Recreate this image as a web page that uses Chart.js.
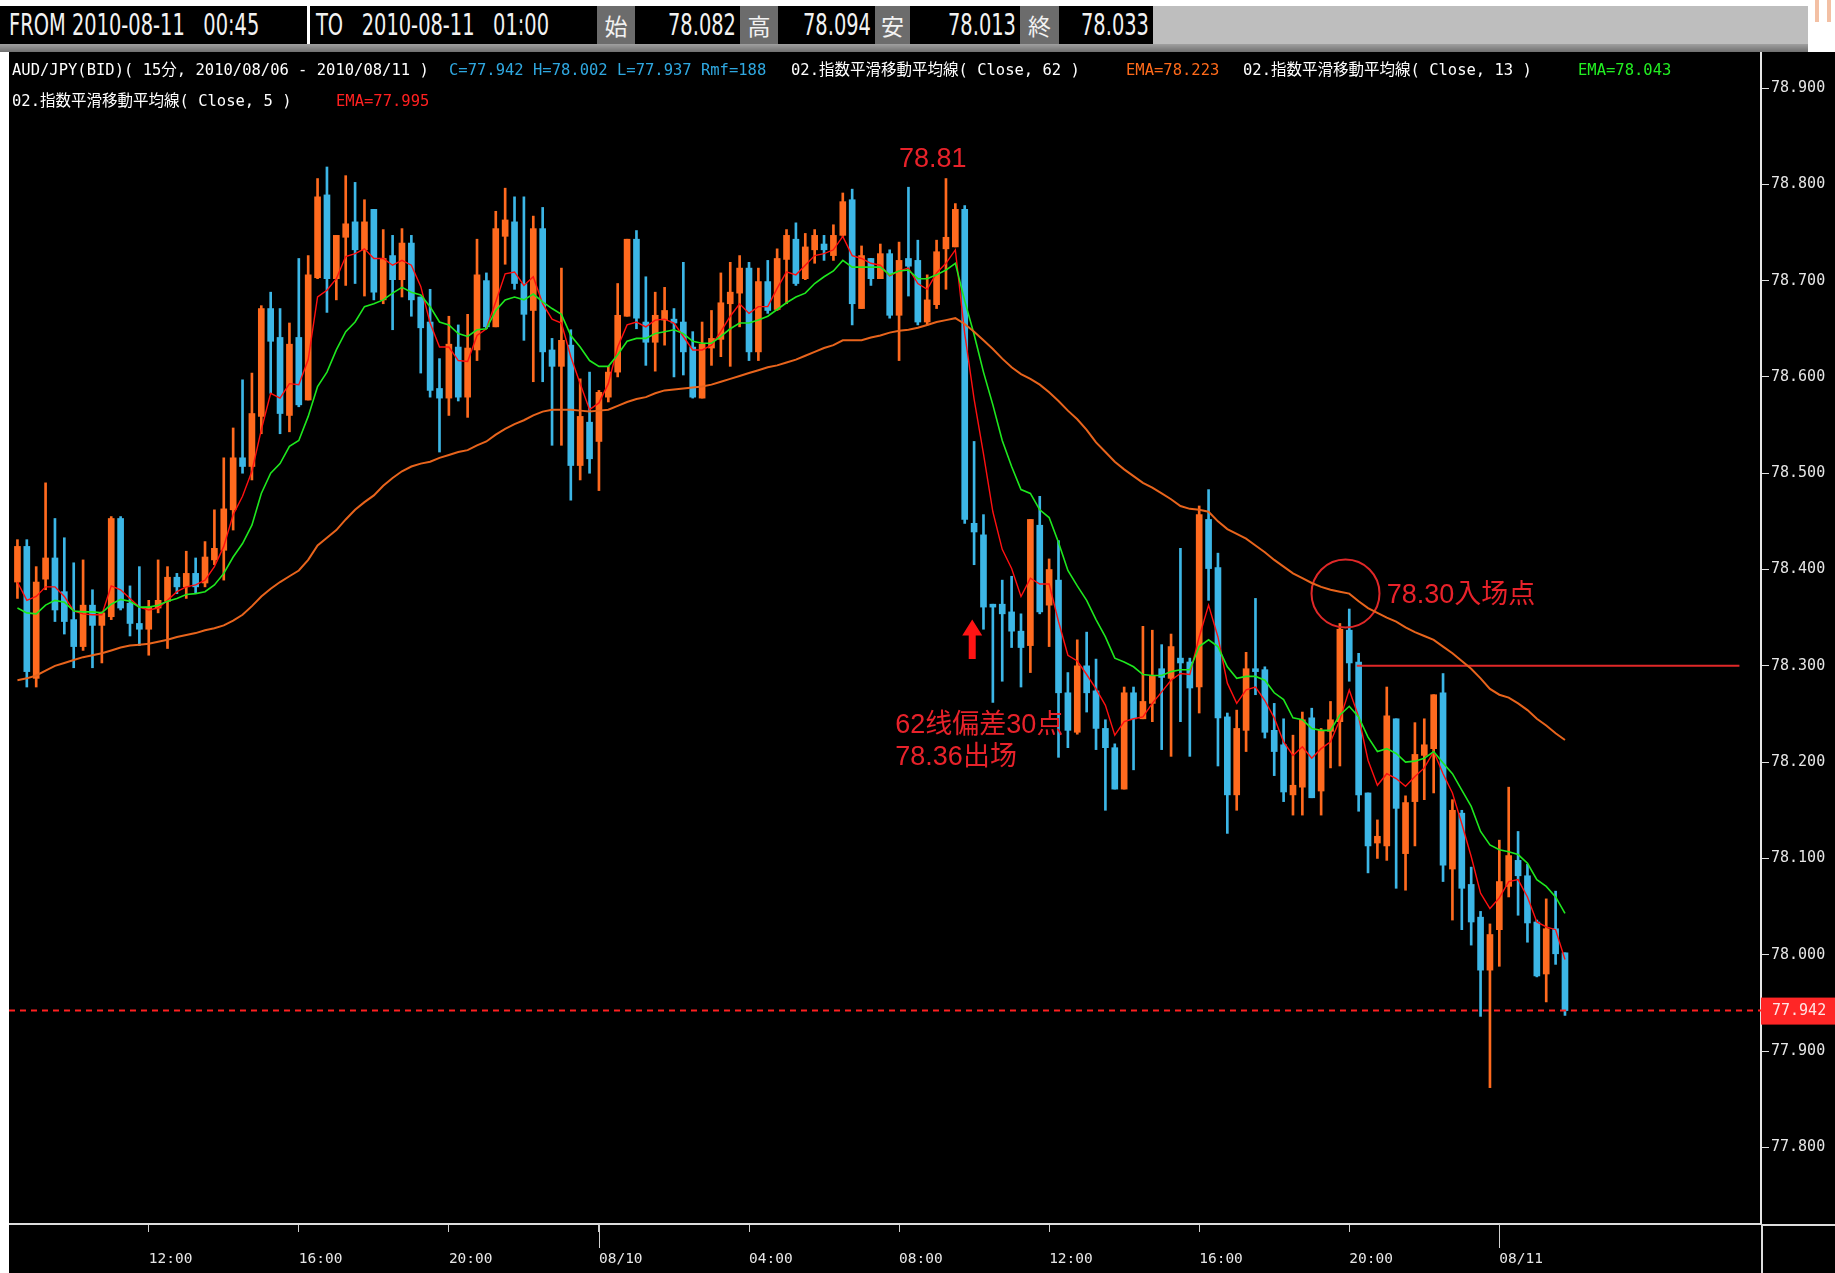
<!DOCTYPE html>
<html lang="ja">
<head>
<meta charset="utf-8">
<title>AUD/JPY 15分</title>
<script src="https://cdn.jsdelivr.net/npm/chart.js@4.4.0/dist/chart.umd.min.js"></script>
<style>
  html, body { margin: 0; padding: 0; background: #fff; }
  body { position: relative; width: 1835px; height: 1273px; overflow: hidden; }
  .hd { position: absolute; top: 6px; height: 38px; line-height: 38px; background: #000; color: #f2f2f2;
        font-family: "DejaVu Sans Condensed", "Liberation Sans", sans-serif; font-size: 27px;
        white-space: pre; box-sizing: border-box; overflow: hidden; }
  .hd span { display: inline-block; transform: scale(0.8, 1.12); transform-origin: left center; }
  .hd.v span { transform-origin: right center; }
  .hd.k { background: #6c6c6c; text-align: center; font-family: "Noto Sans CJK JP", sans-serif; font-size: 23px; }
  .hd.v { text-align: right; padding-right: 4px; }
  .hd.g { background: #bebebe; }
  #rule { position: absolute; left: 0; top: 44px; width: 1808px; height: 8px; background: linear-gradient(#a0a0a0, #707070); }
  #panel { position: absolute; left: 9px; top: 52px; width: 1826px; height: 1221px; background: #000; }
  #chart { position: absolute; left: 0; top: 0; }
  .lg { position: absolute; font-family: "DejaVu Sans Mono", "Noto Sans CJK JP", monospace; font-size: 15.5px;
        white-space: pre; color: #fff; line-height: 18px; }
  .deco { position: absolute; top: 0; width: 4px; height: 22px; background: #f3c0a4; }
</style>
</head>
<body>
<div class="hd" style="left:0;width:307px;padding-left:9px;"><span>FROM 2010-08-11   00:45</span></div>
<div class="hd" style="left:310px;width:287px;padding-left:6px;"><span>TO   2010-08-11   01:00</span></div>
<div class="hd k" style="left:597px;width:38px;">始</div>
<div class="hd v" style="left:635px;width:105px;"><span>78.082</span></div>
<div class="hd k" style="left:740px;width:38px;">高</div>
<div class="hd v" style="left:778px;width:97px;"><span>78.094</span></div>
<div class="hd k" style="left:875px;width:35px;">安</div>
<div class="hd v" style="left:910px;width:110px;"><span>78.013</span></div>
<div class="hd k" style="left:1020px;width:39px;">終</div>
<div class="hd v" style="left:1059px;width:94px;"><span>78.033</span></div>
<div class="hd g" style="left:1153px;width:655px;"></div>
<div class="deco" style="left:1815px;"></div>
<div class="deco" style="left:1827px;"></div>
<div id="rule"></div>

<div id="panel"><canvas id="chart" width="1826" height="1221"></canvas></div>

<div class="lg" style="left:12px;top:61px;">AUD/JPY(BID)( 15分, 2010/08/06 - 2010/08/11 )</div>
<div class="lg" style="left:449px;top:61px;color:#2fa8e0;">C=77.942 H=78.002 L=77.937 Rmf=188</div>
<div class="lg" style="left:791px;top:61px;">02.指数平滑移動平均線( Close, 62 )</div>
<div class="lg" style="left:1126px;top:61px;color:#ff6a1a;">EMA=78.223</div>
<div class="lg" style="left:1243px;top:61px;">02.指数平滑移動平均線( Close, 13 )</div>
<div class="lg" style="left:1578px;top:61px;color:#22ee22;">EMA=78.043</div>
<div class="lg" style="left:12px;top:92px;">02.指数平滑移動平均線( Close, 5 )</div>
<div class="lg" style="left:336px;top:92px;color:#ff2020;">EMA=77.995</div>

<script>
// AUD/JPY 15 minute bars, 08/09 08:30 .. 08/11 01:45 (one entry per bar)
const opens = [
  78.387, 78.424, 78.287, 78.390, 78.412, 78.377, 78.348, 78.320, 78.363, 78.342,
  78.351, 78.453, 78.365, 78.344, 78.338, 78.360, 78.367, 78.392, 78.382, 78.396,
  78.386, 78.410, 78.420, 78.462, 78.516, 78.507, 78.559, 78.671, 78.641, 78.560,
  78.641, 78.576, 78.703, 78.789, 78.702, 78.745, 78.761, 78.732, 78.774, 78.680,
  78.726, 78.701, 78.739, 78.683, 78.657, 78.588, 78.578, 78.631, 78.579, 78.628,
  78.700, 78.652, 78.746, 78.761, 78.697, 78.669, 78.754, 78.628, 78.611, 78.633,
  78.508, 78.553, 78.533, 78.579, 78.605, 78.663, 78.743, 78.657, 78.636, 78.659,
  78.660, 78.657, 78.631, 78.578, 78.630, 78.639, 78.676, 78.687, 78.713, 78.626,
  78.699, 78.670, 78.722, 78.743, 78.702, 78.732, 78.738, 78.726, 78.747, 78.784,
  78.671, 78.723, 78.702, 78.728, 78.664, 78.723, 78.721, 78.657, 78.675, 78.733,
  78.735, 78.774, 78.448, 78.436, 78.364, 78.364, 78.356, 78.336, 78.321, 78.446,
  78.363, 78.389, 78.272, 78.231, 78.300, 78.274, 78.235, 78.215, 78.172, 78.272,
  78.245, 78.261, 78.297, 78.287, 78.308, 78.304, 78.278, 78.452, 78.402, 78.247,
  78.166, 78.233, 78.297, 78.296, 78.233, 78.218, 78.166, 78.174, 78.246, 78.170,
  78.232, 78.242, 78.337, 78.304, 78.168, 78.116, 78.113, 78.245, 78.105, 78.159,
  78.207, 78.214, 78.272, 78.089, 78.147, 78.073, 78.039, 77.984, 78.026, 78.071,
  78.098, 78.082, 78.034, 77.980, 78.027, 78.002
];
const highs = [
  78.431, 78.431, 78.403, 78.490, 78.453, 78.433, 78.407, 78.410, 78.379, 78.356,
  78.455, 78.455, 78.383, 78.403, 78.368, 78.410, 78.403, 78.396, 78.419, 78.412,
  78.429, 78.462, 78.516, 78.547, 78.597, 78.604, 78.674, 78.688, 78.671, 78.656,
  78.723, 78.726, 78.806, 78.818, 78.747, 78.809, 78.802, 78.784, 78.774, 78.753,
  78.747, 78.754, 78.747, 78.683, 78.691, 78.619, 78.663, 78.654, 78.665, 78.743,
  78.708, 78.772, 78.796, 78.787, 78.787, 78.767, 78.776, 78.640, 78.713, 78.649,
  78.598, 78.605, 78.586, 78.611, 78.697, 78.743, 78.752, 78.704, 78.688, 78.693,
  78.671, 78.719, 78.647, 78.657, 78.669, 78.708, 78.719, 78.726, 78.719, 78.713,
  78.721, 78.733, 78.753, 78.760, 78.749, 78.753, 78.747, 78.758, 78.791, 78.795,
  78.736, 78.723, 78.738, 78.732, 78.740, 78.797, 78.742, 78.706, 78.742, 78.806,
  78.780, 78.778, 78.533, 78.457, 78.364, 78.389, 78.393, 78.354, 78.452, 78.476,
  78.411, 78.430, 78.293, 78.327, 78.335, 78.307, 78.244, 78.219, 78.278, 78.278,
  78.341, 78.337, 78.322, 78.333, 78.422, 78.308, 78.466, 78.483, 78.417, 78.251,
  78.254, 78.314, 78.370, 78.299, 78.261, 78.245, 78.228, 78.252, 78.256, 78.235,
  78.263, 78.344, 78.359, 78.313, 78.168, 78.140, 78.278, 78.245, 78.165, 78.241,
  78.245, 78.270, 78.292, 78.161, 78.150, 78.091, 78.045, 78.032, 78.119, 78.174,
  78.128, 78.094, 78.036, 78.058, 78.066, 78.002
];
const lows = [
  78.370, 78.278, 78.278, 78.379, 78.346, 78.333, 78.298, 78.316, 78.298, 78.303,
  78.348, 78.358, 78.331, 78.321, 78.311, 78.355, 78.318, 78.375, 78.370, 78.375,
  78.382, 78.405, 78.389, 78.441, 78.500, 78.493, 78.541, 78.583, 78.541, 78.543,
  78.569, 78.576, 78.702, 78.667, 78.680, 78.695, 78.697, 78.684, 78.680, 78.676,
  78.649, 78.683, 78.663, 78.604, 78.579, 78.522, 78.560, 78.575, 78.558, 78.617,
  78.650, 78.652, 78.717, 78.691, 78.638, 78.595, 78.595, 78.529, 78.529, 78.472,
  78.493, 78.500, 78.482, 78.574, 78.600, 78.663, 78.650, 78.612, 78.606, 78.633,
  78.600, 78.602, 78.578, 78.578, 78.612, 78.621, 78.611, 78.652, 78.617, 78.617,
  78.666, 78.669, 78.676, 78.695, 78.701, 78.718, 78.721, 78.721, 78.746, 78.654,
  78.671, 78.695, 78.702, 78.661, 78.617, 78.684, 78.654, 78.654, 78.671, 78.691,
  78.735, 78.448, 78.405, 78.338, 78.262, 78.284, 78.319, 78.278, 78.293, 78.354,
  78.320, 78.205, 78.215, 78.229, 78.252, 78.213, 78.150, 78.172, 78.172, 78.192,
  78.245, 78.242, 78.213, 78.206, 78.242, 78.206, 78.251, 78.368, 78.196, 78.126,
  78.150, 78.211, 78.270, 78.225, 78.186, 78.159, 78.145, 78.145, 78.163, 78.145,
  78.194, 78.196, 78.284, 78.149, 78.085, 78.100, 78.098, 78.069, 78.067, 78.113,
  78.161, 78.168, 78.076, 78.036, 78.026, 78.010, 77.936, 77.862, 77.988, 78.060,
  78.041, 78.013, 77.977, 77.951, 77.990, 77.937
];
const closes = [
  78.424, 78.294, 78.387, 78.412, 78.358, 78.346, 78.320, 78.363, 78.342, 78.355,
  78.453, 78.360, 78.344, 78.338, 78.361, 78.368, 78.392, 78.382, 78.396, 78.382,
  78.413, 78.422, 78.463, 78.516, 78.507, 78.562, 78.671, 78.637, 78.562, 78.634,
  78.571, 78.706, 78.787, 78.702, 78.747, 78.759, 78.732, 78.761, 78.688, 78.723,
  78.701, 78.739, 78.680, 78.651, 78.586, 78.578, 78.634, 78.579, 78.630, 78.706,
  78.652, 78.754, 78.763, 78.697, 78.665, 78.754, 78.626, 78.611, 78.638, 78.508,
  78.559, 78.515, 78.584, 78.605, 78.664, 78.743, 78.661, 78.636, 78.664, 78.669,
  78.656, 78.626, 78.579, 78.634, 78.640, 78.677, 78.688, 78.713, 78.626, 78.699,
  78.669, 78.723, 78.747, 78.697, 78.735, 78.747, 78.732, 78.747, 78.782, 78.676,
  78.726, 78.702, 78.728, 78.664, 78.721, 78.715, 78.657, 78.680, 78.730, 78.745,
  78.774, 78.452, 78.439, 78.361, 78.361, 78.354, 78.336, 78.319, 78.452, 78.356,
  78.400, 78.272, 78.233, 78.300, 78.272, 78.235, 78.215, 78.172, 78.272, 78.245,
  78.263, 78.290, 78.288, 78.320, 78.303, 78.277, 78.457, 78.401, 78.246, 78.166,
  78.235, 78.297, 78.294, 78.231, 78.211, 78.169, 78.176, 78.244, 78.163, 78.233,
  78.244, 78.338, 78.303, 78.166, 78.113, 78.123, 78.248, 78.152, 78.158, 78.208,
  78.218, 78.270, 78.093, 78.150, 78.069, 78.034, 77.984, 78.021, 78.076, 78.103,
  78.082, 78.033, 77.978, 78.027, 78.001, 77.942
];

// moving averages as drawn on the chart
const ema62 = [
  78.285, 78.287, 78.290, 78.295, 78.300, 78.303, 78.306, 78.309, 78.311, 78.313,
  78.316, 78.319, 78.321, 78.322, 78.323, 78.325, 78.327, 78.330, 78.332, 78.334,
  78.337, 78.339, 78.342, 78.347, 78.353, 78.362, 78.372, 78.380, 78.387, 78.393,
  78.399, 78.410, 78.425, 78.433, 78.441, 78.452, 78.462, 78.470, 78.477, 78.487,
  78.495, 78.502, 78.507, 78.510, 78.512, 78.516, 78.519, 78.522, 78.524, 78.529,
  78.533, 78.540, 78.546, 78.551, 78.555, 78.560, 78.564, 78.566, 78.566, 78.566,
  78.565, 78.564, 78.565, 78.566, 78.570, 78.574, 78.577, 78.579, 78.583, 78.586,
  78.587, 78.588, 78.589, 78.590, 78.592, 78.595, 78.598, 78.601, 78.604, 78.607,
  78.610, 78.612, 78.615, 78.618, 78.622, 78.626, 78.630, 78.633, 78.638, 78.638,
  78.638, 78.641, 78.643, 78.646, 78.648, 78.649, 78.651, 78.654, 78.657, 78.659,
  78.661, 78.655, 78.647, 78.638, 78.629, 78.619, 78.610, 78.603, 78.598, 78.592,
  78.584, 78.575, 78.565, 78.556, 78.545, 78.532, 78.522, 78.512, 78.504, 78.497,
  78.490, 78.485, 78.479, 78.473, 78.466, 78.463, 78.462, 78.460, 78.450, 78.442,
  78.437, 78.432, 78.425, 78.418, 78.410, 78.403, 78.396, 78.391, 78.386, 78.382,
  78.379, 78.377, 78.375, 78.367, 78.360, 78.355, 78.350, 78.346, 78.340, 78.335,
  78.331, 78.327, 78.320, 78.313, 78.305, 78.297, 78.287, 78.276, 78.270, 78.267,
  78.261, 78.254, 78.245, 78.238, 78.230, 78.223
];
const ema13 = [
  78.360, 78.355, 78.354, 78.363, 78.368, 78.366, 78.357, 78.356, 78.356, 78.355,
  78.364, 78.369, 78.367, 78.361, 78.361, 78.363, 78.367, 78.370, 78.374, 78.375,
  78.377, 78.384, 78.396, 78.413, 78.427, 78.446, 78.479, 78.500, 78.510, 78.528,
  78.534, 78.559, 78.590, 78.605, 78.628, 78.647, 78.657, 78.673, 78.676, 78.680,
  78.687, 78.693, 78.688, 78.685, 78.673, 78.657, 78.654, 78.645, 78.642, 78.649,
  78.650, 78.669, 78.680, 78.683, 78.680, 78.686, 78.678, 78.671, 78.665, 78.643,
  78.631, 78.617, 78.611, 78.611, 78.623, 78.637, 78.640, 78.640, 78.645, 78.647,
  78.649, 78.645, 78.637, 78.635, 78.635, 78.642, 78.650, 78.656, 78.656, 78.659,
  78.663, 78.670, 78.677, 78.683, 78.687, 78.697, 78.704, 78.710, 78.721, 78.714,
  78.714, 78.714, 78.714, 78.706, 78.710, 78.711, 78.702, 78.702, 78.706, 78.711,
  78.718, 78.679, 78.644, 78.605, 78.571, 78.534, 78.507, 78.483, 78.479, 78.462,
  78.454, 78.428, 78.399, 78.383, 78.368, 78.348, 78.330, 78.308, 78.304, 78.299,
  78.291, 78.290, 78.290, 78.294, 78.296, 78.296, 78.320, 78.327, 78.320, 78.299,
  78.287, 78.289, 78.289, 78.285, 78.272, 78.265, 78.246, 78.244, 78.235, 78.233,
  78.233, 78.249, 78.258, 78.247, 78.226, 78.211, 78.214, 78.209, 78.200, 78.201,
  78.204, 78.211, 78.199, 78.188, 78.171, 78.154, 78.128, 78.114, 78.109, 78.107,
  78.104, 78.095, 78.078, 78.071, 78.060, 78.043
];
const ema5 = [
  78.387, 78.368, 78.372, 78.382, 78.382, 78.372, 78.357, 78.354, 78.353, 78.353,
  78.383, 78.379, 78.370, 78.361, 78.358, 78.360, 78.368, 78.377, 78.382, 78.384,
  78.389, 78.403, 78.424, 78.457, 78.476, 78.502, 78.545, 78.583, 78.578, 78.593,
  78.592, 78.618, 78.683, 78.690, 78.702, 78.725, 78.728, 78.733, 78.723, 78.723,
  78.716, 78.721, 78.716, 78.694, 78.656, 78.631, 78.631, 78.617, 78.616, 78.643,
  78.650, 78.678, 78.707, 78.709, 78.695, 78.704, 78.676, 78.660, 78.656, 78.621,
  78.593, 78.566, 78.573, 78.593, 78.631, 78.654, 78.657, 78.652, 78.659, 78.660,
  78.656, 78.642, 78.628, 78.628, 78.633, 78.647, 78.663, 78.676, 78.666, 78.673,
  78.673, 78.692, 78.709, 78.706, 78.716, 78.726, 78.728, 78.732, 78.746, 78.726,
  78.723, 78.718, 78.716, 78.705, 78.710, 78.713, 78.697, 78.691, 78.708, 78.718,
  78.732, 78.645, 78.577, 78.520, 78.460, 78.421, 78.401, 78.372, 78.391, 78.385,
  78.385, 78.346, 78.311, 78.305, 78.291, 78.276, 78.259, 78.228, 78.242, 78.245,
  78.247, 78.261, 78.273, 78.285, 78.292, 78.291, 78.330, 78.363, 78.330, 78.282,
  78.261, 78.275, 78.278, 78.264, 78.246, 78.221, 78.207, 78.216, 78.204, 78.214,
  78.221, 78.244, 78.275, 78.247, 78.202, 78.176, 78.188, 78.183, 78.175, 78.185,
  78.194, 78.211, 78.188, 78.168, 78.136, 78.102, 78.064, 78.048, 78.059, 78.076,
  78.078, 78.060, 78.034, 78.029, 78.026, 77.995
];

const xTickIndex = [14, 30, 46, 62, 78, 94, 110, 126, 142, 158];
const xTickLabels = ['12:00', '16:00', '20:00', '08/10', '04:00', '08:00', '12:00', '16:00', '20:00', '08/11'];
const yTicks = [77.8, 77.9, 78.0, 78.1, 78.2, 78.3, 78.4, 78.5, 78.6, 78.7, 78.8, 78.9];

// hand drawn notes on the original chart
const highNote = { text: '78.81', x: 97.6, y: 78.812 };
const exitNotes = [
  { text: '62线偏差30点', x: 93.6, y: 78.252 },
  { text: '78.36出场', x: 93.6, y: 78.219 }
];
const entryNote = { text: '78.30入场点', x: 146.0, y: 78.387 };
const entryLine = { price: 78.30, from: 142.8, to: 183.6 };
const entryCircle = { x: 141.6, y: 78.375 };
const exitArrow = { x: 101.8, top: 78.348, bottom: 78.307 };

const X_MIN = -0.9, X_MAX = 185.9;
const Y_MIN = 77.7204, Y_MAX = 78.9374;
const UP = '#ff6a1e';
const DOWN = '#3cb6e6';
const NOTE_RED = '#e8222a';
const lastClose = closes[closes.length - 1];

const idx = opens.map((_, i) => i);
const candleColors = idx.map(i => closes[i] >= opens[i] ? UP : DOWN);

function lineSet(label, values, color, width) {
  return {
    type: 'line', label: label,
    data: idx.map(i => ({ x: i, y: values[i] })),
    borderColor: color, borderWidth: width,
    pointRadius: 0, tension: 0, order: 0
  };
}

// notes, arrow, price tag, long date ticks and axis line extensions
const notesPlugin = {
  id: 'notes',
  afterDatasetsDraw(chart) {
    const { ctx, scales: { x, y } } = chart;
    ctx.save();
    ctx.fillStyle = NOTE_RED;
    ctx.font = '27px "Liberation Sans", "Noto Sans CJK SC", sans-serif';

    ctx.textAlign = 'center';
    ctx.textBaseline = 'bottom';
    ctx.fillText(highNote.text, x.getPixelForValue(highNote.x), y.getPixelForValue(highNote.y));

    ctx.textAlign = 'left';
    ctx.textBaseline = 'top';
    exitNotes.forEach(n => ctx.fillText(n.text, x.getPixelForValue(n.x), y.getPixelForValue(n.y)));
    ctx.fillText(entryNote.text, x.getPixelForValue(entryNote.x), y.getPixelForValue(entryNote.y));

    // red arrow under the bar where the position was closed
    const ax = x.getPixelForValue(exitArrow.x);
    const top = y.getPixelForValue(exitArrow.top);
    const bot = y.getPixelForValue(exitArrow.bottom);
    ctx.fillStyle = '#ff1414';
    ctx.beginPath();
    ctx.moveTo(ax, top);
    ctx.lineTo(ax + 10, top + 16);
    ctx.lineTo(ax + 3.5, top + 16);
    ctx.lineTo(ax + 3.5, bot);
    ctx.lineTo(ax - 3.5, bot);
    ctx.lineTo(ax - 3.5, top + 16);
    ctx.lineTo(ax - 10, top + 16);
    ctx.closePath();
    ctx.fill();
    ctx.restore();
  },
  afterDraw(chart) {
    const { ctx, chartArea, scales: { x, y } } = chart;
    ctx.save();
    // axis lines run on to the canvas edges
    ctx.strokeStyle = '#dcdcdc';
    ctx.lineWidth = 2;
    ctx.beginPath();
    ctx.moveTo(chartArea.right, chartArea.bottom + 1);
    ctx.lineTo(chart.width, chartArea.bottom + 1);
    ctx.moveTo(chartArea.right + 1, chartArea.bottom);
    ctx.lineTo(chartArea.right + 1, chart.height);
    ctx.stroke();

    // last price tag on the price axis
    const py = y.getPixelForValue(lastClose);
    ctx.fillStyle = '#ff2626';
    ctx.fillRect(chartArea.right, py - 13, chart.width - chartArea.right, 27);
    ctx.fillStyle = '#ffe4e4';
    ctx.font = '15px "DejaVu Sans Mono", monospace';
    ctx.textAlign = 'left';
    ctx.textBaseline = 'middle';
    ctx.fillText(lastClose.toFixed(3), chartArea.right + 11, py + 1);

    // date boundaries get a longer tick
    ctx.strokeStyle = '#d0d0d0';
    ctx.lineWidth = 1;
    xTickIndex.forEach((v, i) => {
      if (xTickLabels[i].indexOf('/') < 0) return;
      const px = Math.round(x.getPixelForValue(v)) + 0.5;
      ctx.beginPath();
      ctx.moveTo(px, chartArea.bottom);
      ctx.lineTo(px, chartArea.bottom + 24);
      ctx.stroke();
    });
    ctx.restore();
  }
};

new Chart(document.getElementById('chart'), {
  type: 'bar',
  data: {
    datasets: [
      lineSet('EMA62', ema62, '#e8641c', 2),
      lineSet('EMA13', ema13, '#1ee81e', 1.6),
      lineSet('EMA5', ema5, '#ff1010', 1.4),
      {
        type: 'line', label: 'last',
        data: [{ x: X_MIN, y: lastClose }, { x: X_MAX, y: lastClose }],
        borderColor: '#ff2020', borderWidth: 2, borderDash: [6, 5],
        pointRadius: 0, order: 0
      },
      {
        type: 'line', label: 'entry',
        data: [{ x: entryLine.from, y: entryLine.price }, { x: entryLine.to, y: entryLine.price }],
        borderColor: '#e02828', borderWidth: 2, pointRadius: 0, order: 0
      },
      {
        type: 'line', label: 'circle', showLine: false,
        data: [{ x: entryCircle.x, y: entryCircle.y }],
        pointRadius: 34, pointBorderWidth: 2,
        pointBorderColor: '#e02828', pointBackgroundColor: 'rgba(0,0,0,0)', order: 0
      },
      {
        label: 'wick',
        data: idx.map(i => ({ x: i, y: [lows[i], highs[i]] })),
        backgroundColor: candleColors,
        barThickness: 2, grouped: false, order: 2
      },
      {
        label: 'body',
        data: idx.map(i => ({ x: i, y: [opens[i], closes[i]] })),
        backgroundColor: candleColors,
        barThickness: 6, minBarLength: 2, grouped: false, order: 1
      }
    ]
  },
  options: {
    responsive: false,
    animation: false,
    events: [],
    layout: { padding: 0, autoPadding: false },
    plugins: {
      legend: { display: false },
      tooltip: { enabled: false }
    },
    scales: {
      x: {
        type: 'linear',
        min: X_MIN,
        max: X_MAX,
        offset: false,
        afterBuildTicks: scale => { scale.ticks = xTickIndex.map(v => ({ value: v })); },
        afterFit: scale => { scale.height = 49; scale.paddingLeft = 0; scale.paddingRight = 0; },
        ticks: {
          callback: (v, i) => xTickLabels[i],
          color: '#e6e6e6',
          font: { family: 'DejaVu Sans Mono', size: 14.5 },
          align: 'start',
          autoSkip: false,
          maxRotation: 0,
          padding: 19
        },
        grid: { drawOnChartArea: false, offset: false, tickLength: 8, color: '#d0d0d0' },
        border: { color: '#dcdcdc', width: 2 }
      },
      y: {
        type: 'linear',
        position: 'right',
        min: Y_MIN,
        max: Y_MAX,
        afterBuildTicks: scale => { scale.ticks = yTicks.map(v => ({ value: v })); },
        afterFit: scale => { scale.width = 74; scale.paddingTop = 0; scale.paddingBottom = 0; },
        ticks: {
          callback: v => v.toFixed(3),
          color: '#e6e6e6',
          font: { family: 'DejaVu Sans Mono', size: 15 },
          padding: 2
        },
        grid: { drawOnChartArea: false, tickLength: 8, color: '#e0e0e0' },
        border: { color: '#e6e6e6', width: 2 }
      }
    }
  },
  plugins: [notesPlugin]
});
</script>
</body>
</html>
